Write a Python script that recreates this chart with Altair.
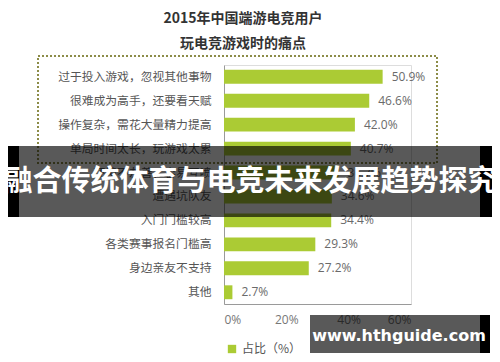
import altair as alt
import pandas as pd

categories = [
    "过于投入游戏，忽视其他事物",
    "很难成为高手，还要看天赋",
    "操作复杂，需花大量精力提高",
    "单局时间太长，玩游戏太累",
    "环境不友善，容易互喷",
    "遭遇坑队友",
    "入门门槛较高",
    "各类赛事报名门槛高",
    "身边亲友不支持",
    "其他",
]
values = [50.9, 46.6, 42.0, 40.7, 36.7, 34.6, 34.4, 29.3, 27.2, 2.7]
x_ticks = [0, 20, 40, 60]
title_lines = ["2015年中国端游电竞用户", "玩电竞游戏时的痛点"]
legend_label = "占比（%）"
banner_text = "融合传统体育与电竞未来发展趋势探究"
watermark_text = "www.hthguide.com"

df = pd.DataFrame({
    "cat": categories,
    "val": values,
    "lab": [f"{v:.1f}%" for v in values],
    "series": [legend_label] * len(values),
})
one = pd.DataFrame({"a": [0]})

GREEN = "#abcb34"
CJK = "Noto Sans CJK SC"

y_enc = alt.Y("cat:N", sort=categories,
              scale=alt.Scale(paddingInner=0.42, paddingOuter=0.2),
              axis=alt.Axis(title=None, ticks=False, labelPadding=13, labelFont=CJK,
                            labelFontSize=11.8, labelColor="#555555", domainColor="#9a9a9a",
                            labelLimit=300))
x_enc = alt.X("val:Q", scale=alt.Scale(domain=[0, 60], nice=False),
              axis=alt.Axis(title=None, values=x_ticks, ticks=False, grid=False,
                            labelExpr="datum.value + '%'", labelPadding=10,
                            labelFont="Open Sans", labelFontSize=12, labelColor="#777777",
                            domainColor="#9a9a9a"))

bars = alt.Chart(df).mark_bar(opacity=1).encode(
    x=x_enc, y=y_enc,
    color=alt.Color("series:N", scale=alt.Scale(range=[GREEN]),
                    legend=alt.Legend(title=None, orient="none", legendX=2, legendY=278,
                                      symbolType="square", symbolSize=70,
                                      labelFont=CJK, labelFontSize=12, labelColor="#555555",
                                      symbolStrokeWidth=0)),
)
labels = alt.Chart(df).mark_text(align="left", dx=9, font="Open Sans", fontSize=12,
                                 color="#6a6a6a").encode(
    x="val:Q", y=alt.Y("cat:N", sort=categories), text="lab:N")

box = alt.Chart(one).mark_rect(fill=None, fillOpacity=0, stroke="#8c8c48", strokeWidth=2,
                               strokeDash=[2, 2]).encode(
    x=alt.value(-186), x2=alt.value(213), y=alt.value(-9), y2=alt.value(98))

t1 = alt.Chart(one).mark_text(font=CJK, fontSize=14, fontWeight="bold", color="#333333").encode(
    x=alt.value(19), y=alt.value(-46), text=alt.value(title_lines[0]))
t2 = alt.Chart(one).mark_text(font=CJK, fontSize=14, fontWeight="bold", color="#333333").encode(
    x=alt.value(19), y=alt.value(-21), text=alt.value(title_lines[1]))

ban_l = alt.Chart(one).mark_rect(color="#000000").encode(
    x=alt.value(-224), x2=alt.value(-205), y=alt.value(81), y2=alt.value(152))
ban_r = alt.Chart(one).mark_rect(color="#000000").encode(
    x=alt.value(256), x2=alt.value(271), y=alt.value(81), y2=alt.value(152))
ban_m = alt.Chart(one).mark_rect(color="#000000", opacity=0.65).encode(
    x=alt.value(-205), x2=alt.value(256), y=alt.value(81), y2=alt.value(152))
ban_t = alt.Chart(one).mark_text(font=CJK, fontSize=29, fontWeight="bold", color="#ffffff",
                                 baseline="middle").encode(
    x=alt.value(26), y=alt.value(117), text=alt.value(banner_text))

wm_m = alt.Chart(one).mark_rect(color="#000000", opacity=0.65).encode(
    x=alt.value(86), x2=alt.value(256), y=alt.value(250), y2=alt.value(288))
wm_r = alt.Chart(one).mark_rect(color="#000000").encode(
    x=alt.value(256), x2=alt.value(266), y=alt.value(250), y2=alt.value(288))
wm_t = alt.Chart(one).mark_text(font="DejaVu Sans", fontSize=16, fontWeight="bold",
                                color="#ffffff", baseline="middle").encode(
    x=alt.value(175), y=alt.value(271), text=alt.value(watermark_text))

chart = alt.layer(box, bars, labels, t1, t2, ban_m, ban_l, ban_r, ban_t, wm_m, wm_r, wm_t).properties(
    width=187, height=239,
    autosize=alt.AutoSizeParams(type="none"),
    padding={"left": 216, "top": 57, "right": 81, "bottom": 50},
).configure_view(stroke=None).configure(background="#ffffff")

chart.save("out.html", embed_options={"renderer": "svg", "actions": False})
